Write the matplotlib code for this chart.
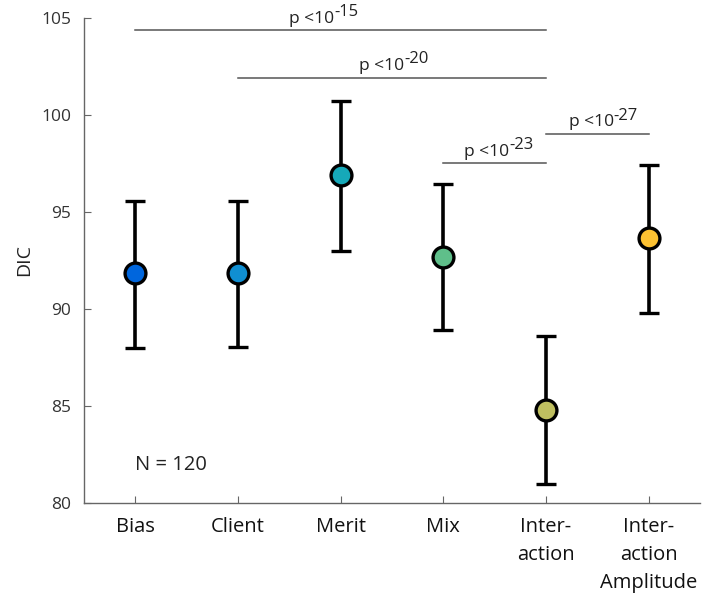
import matplotlib
matplotlib.use("Agg")
import matplotlib.pyplot as plt

models = ["Bias", "Client", "Merit", "Mix", "Inter-\naction", "Inter-\naction\nAmplitude"]
dic_mean = [91.85, 91.85, 96.9, 92.7, 84.8, 93.65]
dic_upper = [95.55, 95.57, 100.7, 96.45, 88.6, 97.4]
dic_lower = [88.0, 88.05, 93.0, 88.9, 80.97, 89.8]
colors = ["#0066dd", "#108fd2", "#16a9b9", "#5fbf8a", "#bfbf60", "#fdc232"]

# significance comparisons: (from index, to index, y level, exponent)
sig_from = [1, 2, 4, 5]
sig_to = [5, 5, 5, 6]
sig_y = [104.35, 101.9, 97.5, 99.0]
sig_exp = ["-15", "-20", "-23", "-27"]
sig_text_x = [2.72, 3.4, 4.42, 5.44]

plt.rcParams['font.family'] = ['Open Sans', 'DejaVu Sans']

fig = plt.figure(figsize=(7.05, 5.96), dpi=100)
ax = fig.add_axes([0.119, 0.156, 0.874, 0.814])

x = list(range(1, len(models) + 1))
for xi, m, up, lo, c in zip(x, dic_mean, dic_upper, dic_lower, colors):
    ax.errorbar([xi], [m], yerr=[[m - lo], [up - m]], fmt='o', color='black',
                ecolor='black', elinewidth=2.6, capsize=7.5, capthick=2.6,
                markersize=15, markerfacecolor=c, markeredgecolor='black',
                markeredgewidth=2.4, zorder=3)

for f, t, y, e, tx in zip(sig_from, sig_to, sig_y, sig_exp, sig_text_x):
    ax.plot([f, t], [y, y], color='#555555', lw=1.1, zorder=2)
    base = ax.text(tx, y + 0.2, "p <10", ha='center', va='bottom',
                   fontsize=12.5, color='#222222')
    ax.annotate(e, xy=(1.0, 0.42), xycoords=base, ha='left', va='bottom',
                fontsize=12, color='#222222')

ax.text(1.0, 81.95, "N = 120", fontsize=14.5, color='#222222', ha='left', va='center')

ax.set_xlim(0.5, 6.5)
ax.set_ylim(80, 105)
ax.set_yticks([80, 85, 90, 95, 100, 105])
ax.set_xticks(x)
ax.set_xticklabels(models, fontsize=14.5, color='#111111', linespacing=1.55)
ax.tick_params(axis='y', labelsize=12.5, labelcolor='#333333', direction='in',
               length=5, color='#666666', pad=9)
ax.tick_params(axis='x', direction='in', length=5, color='#666666', pad=10)
ax.set_ylabel("DIC", fontsize=14, color='#222222', labelpad=6)

for s in ['top', 'right']:
    ax.spines[s].set_visible(False)
for s in ['left', 'bottom']:
    ax.spines[s].set_color('#666666')
    ax.spines[s].set_linewidth(1.0)

fig.savefig("out.png", dpi=100)
